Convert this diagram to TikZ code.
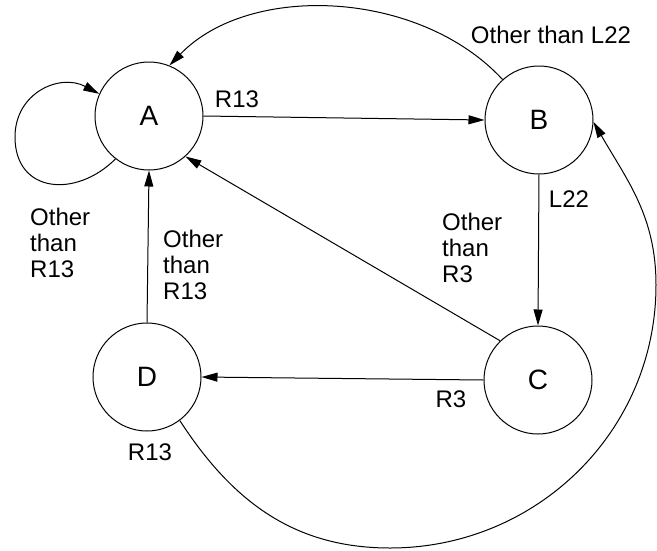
\documentclass[tikz,border=0pt]{standalone}
\usepackage{fontspec}
\setmainfont{Liberation Sans}
\usetikzlibrary{arrows.meta}
\begin{document}
\begin{tikzpicture}[x=1pt,y=-1pt,
 state/.style={circle,draw,line width=1pt,minimum size=108pt,inner sep=0pt,font=\fontsize{28}{32}\selectfont},
 lbl/.style={font=\fontsize{24}{26}\selectfont,inner sep=0pt},
 arr/.style={line width=1pt,-{Triangle[length=16pt,width=9pt]}}]
\useasboundingbox (0,0) rectangle (657,550);
\node[state] (A) at (149,116) {A};
\node[state] (B) at (539,120) {B};
\node[state] (C) at (538,380) {C};
\node[state] (D) at (147,377) {D};
\coordinate (loopl) at (15,137);
\coordinate (bt) at (390,548);
\coordinate (rt) at (656,285);
% edges
\draw[arr] (A.east) -- (B.west);
\draw[arr] (B.south) -- (C.north);
\draw[arr] (C.west) -- (D.east);
\draw[arr] (D.north) -- (A.south);
\draw[arr] (C.134) -- (A.-48);
\draw[arr] (B.132) .. controls (420,-10) and (250,-18) .. (A.68);
\draw[arr] (A.-128) to[out=-135,in=-90,looseness=1.4] (loopl) to[out=90,in=152,looseness=1.2] (A.156);
\draw[arr] (D.-53) to[out=-57,in=180] (bt) to[out=0,in=-90] (rt) to[out=90,in=-60] (B.-2);
% labels
\node[lbl] (lab1) at (237,99) {R13};
\node[lbl] (lab2) at (551,35) {Other than L22};
\node[lbl] (lab3) at (569,199) {L22};
\node[lbl,align=left,anchor=north west] (lab4) at (442,213) {Other\\than\\R3};
\node[lbl,align=left,anchor=north west] (lab5) at (30,208) {Other\\than\\R13};
\node[lbl,align=left,anchor=north west] (lab6) at (163,230) {Other\\than\\R13};
\node[lbl] (lab7) at (451,399) {R3};
\node[lbl] (lab8) at (150,452) {R13};
\end{tikzpicture}
\end{document}
